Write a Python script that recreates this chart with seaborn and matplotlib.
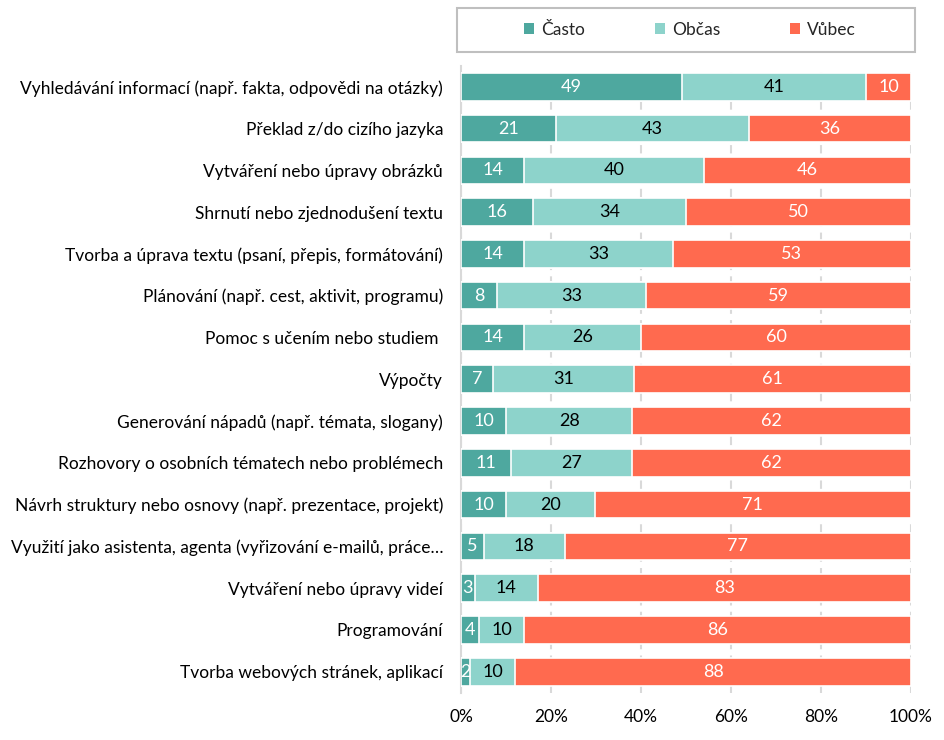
import numpy as np
import pandas as pd
import matplotlib
matplotlib.use("Agg")
import matplotlib.pyplot as plt
import seaborn as sns
from matplotlib.patches import Patch, Rectangle

# data
categories = [
    "Vyhledávání informací (např. fakta, odpovědi na otázky)",
    "Překlad z/do cizího jazyka",
    "Vytváření nebo úpravy obrázků",
    "Shrnutí nebo zjednodušení textu",
    "Tvorba a úprava textu (psaní, přepis, formátování)",
    "Plánování (např. cest, aktivit, programu)",
    "Pomoc s učením nebo studiem ",
    "Výpočty",
    "Generování nápadů (např. témata, slogany)",
    "Rozhovory o osobních tématech nebo problémech",
    "Návrh struktury nebo osnovy (např. prezentace, projekt)",
    "Využití jako asistenta, agenta (vyřizování e-mailů, práce…",
    "Vytváření nebo úpravy videí",
    "Programování",
    "Tvorba webových stránek, aplikací",
]
casto = [49, 21, 14, 16, 14, 8, 14, 7, 10, 11, 10, 5, 3, 4, 2]
obcas = [41, 43, 40, 34, 33, 33, 26, 31, 28, 27, 20, 18, 14, 10, 10]
vubec = [10, 36, 46, 50, 53, 59, 60, 61, 62, 62, 71, 77, 83, 86, 88]
series_names = ["Často", "Občas", "Vůbec"]
colors = ["#4EA89F", "#8DD3CB", "#FF6A4F"]
text_colors = ["white", "black", "white"]

sns.set_theme(style="white")
plt.rcParams["font.family"] = ["Lato", "DejaVu Sans"]
FS = 12.5

df = pd.DataFrame({"cat": categories, "c": casto, "o": obcas, "v": vubec})
tot = df[["c", "o", "v"]].sum(axis=1)
shares = df[["c", "o", "v"]].div(tot, axis=0) * 100
cum = shares.cumsum(axis=1)

fig = plt.figure(figsize=(9.45, 7.4), dpi=100)
ax = fig.add_axes([0.488, 0.064, 0.476, 0.847])

# overlay cumulative bars, widest first
for col, color in zip(["v", "o", "c"], colors[::-1]):
    sns.barplot(x=cum[col], y=df["cat"], color=color, width=0.66, saturation=1,
                edgecolor="white", linewidth=1.2, ax=ax, zorder=3)

# segment value labels
raw = df[["c", "o", "v"]].values
for i in range(len(df)):
    left = 0
    for j, col in enumerate(["c", "o", "v"]):
        w = shares[col].iloc[i]
        ax.text(left + w / 2, i, str(raw[i, j]), ha="center", va="center",
                color=text_colors[j], fontsize=FS + 0.5, zorder=5)
        left += w

ax.set_xlim(0, 100)
ax.set_ylim(len(df) - 0.5, -0.5)
ax.set_xticks([0, 20, 40, 60, 80, 100])
ax.set_xticklabels([f"{t}%" for t in [0, 20, 40, 60, 80, 100]])
ax.xaxis.grid(True, linestyle=(0, (4, 3)), color="#D9D9D9", linewidth=1.5, zorder=0)
ax.set_axisbelow(True)
ax.set_xlabel("")
ax.set_ylabel("")
for s in ["top", "right", "bottom"]:
    ax.spines[s].set_visible(False)
ax.spines["left"].set_color("#D9D9D9")
ax.spines["left"].set_linewidth(1.5)
ax.tick_params(axis="both", length=0, labelsize=FS, colors="black")
ax.tick_params(axis="y", pad=13)
ax.tick_params(axis="x", pad=12)

# legend with a fixed box around it
fig.patches.append(Rectangle((0.4836, 0.9297), 0.4847, 0.0595, transform=fig.transFigure,
                             facecolor="white", edgecolor="#BFBFBF", linewidth=1.5))
handles = [Patch(facecolor=c, edgecolor="none") for c in colors]
fig.legend(handles, series_names, loc="center", bbox_to_anchor=(0.730, 0.9595),
           ncol=3, frameon=False, fontsize=FS, handlelength=0.6, handleheight=0.6,
           handletextpad=0.4, columnspacing=4.0)

fig.savefig("out.png", dpi=100)
